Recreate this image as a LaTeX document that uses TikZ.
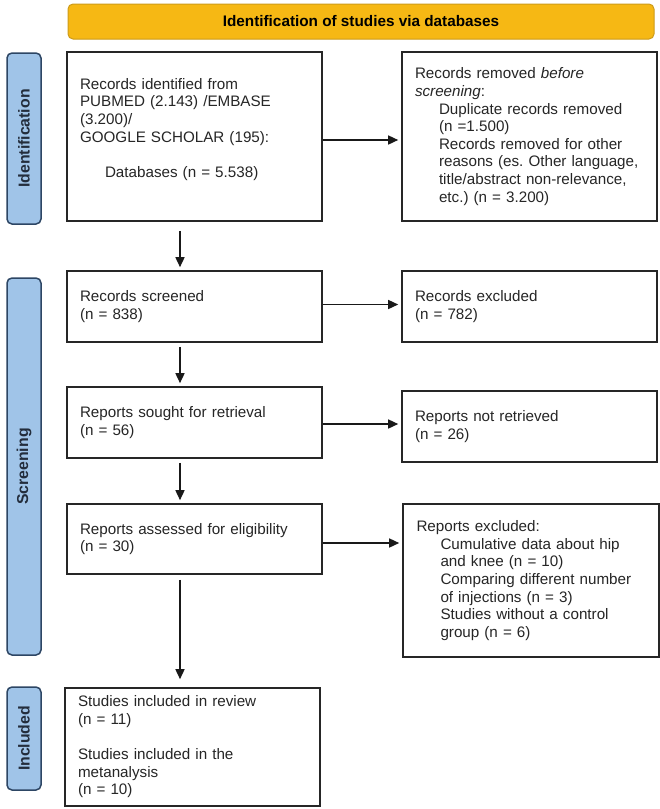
\documentclass[tikz,border=0pt]{standalone}
\usepackage{fontspec}
\setmainfont{Liberation Sans}
\usetikzlibrary{arrows.meta,calc}
\definecolor{banfill}{RGB}{246,184,20}
\definecolor{bandraw}{RGB}{205,155,25}
\definecolor{labfill}{RGB}{160,196,232}
\definecolor{labdraw}{RGB}{45,70,100}
\definecolor{labtext}{RGB}{35,45,60}
\newcommand{\myind}{\hspace*{24pt}}
\frenchspacing
\begin{document}
\begin{tikzpicture}[x=1pt,y=-1pt,
  box/.style={draw=black!85, line width=1.6pt, rectangle, inner xsep=13pt, inner ysep=0pt,
    text width=229pt, minimum width=255pt, align=left, text=black!85,
    font=\fontsize{15.2}{17.6}\selectfont},
  sidelab/.style={draw=labdraw, fill=labfill, line width=1.5pt, rounded corners=5pt,
    rotate=90, minimum height=34pt, inner sep=0pt, text=labtext,
    font=\fontsize{15.8}{18}\selectfont\bfseries},
  banner/.style={draw=bandraw, fill=banfill, line width=1pt, rounded corners=5pt,
    minimum width=586pt, minimum height=35pt, inner sep=0pt,
    font=\fontsize{15.3}{18}\selectfont\bfseries},
  arr/.style={draw=black!90, line width=1.5pt, -{Triangle[length=10pt,width=9pt]}}]
\useasboundingbox (0,0) rectangle (660,809);
\fill[white] (0,0) rectangle (660,809);

% banner and side labels
\node[banner] (ban) at (361,21.5) {Identification of studies via databases};
\node[sidelab, minimum width=171pt] (idl) at (24,138.5) {Identification};
\node[sidelab, minimum width=377pt] (scl) at (24,466.5) {Screening};
\node[sidelab, minimum width=103pt] (inl) at (24,738.5) {Included};

% boxes
\node[box, minimum height=169pt] (b1) at (194.5,136.5) {Records identified from\\
PUBMED (2.143) /EMBASE\\
(3.200)/\\
GOOGLE SCHOLAR (195):\\
\mbox{}\\
\hspace*{25pt}Databases (n = 5.538)\\
\mbox{}};
\node[box, minimum height=169pt] (b2) at (529.5,136.5) {Records removed \textit{before}\\
\textit{screening}:\\
\myind Duplicate records removed\\
\myind (n =1.500)\\
\myind Records removed for other\\
\myind reasons (es. Other language,\\
\myind title/abstract non-relevance,\\
\myind etc.) (n = 3.200)};
\node[box, minimum height=71pt] (b3) at (194.5,306.5) {Records screened\\(n = 838)};
\node[box, minimum height=71pt] (b4) at (529.5,306.5) {Records excluded\\(n = 782)};
\node[box, minimum height=71pt] (b5) at (194.5,422.5) {Reports sought for retrieval\\(n = 56)};
\node[box, minimum height=71pt] (b6) at (529.5,426.5) {Reports not retrieved\\(n = 26)};
\node[box, minimum height=70pt] (b7) at (194.5,539) {Reports assessed for eligibility\\(n = 30)};
\node[box, minimum height=153pt, minimum width=256pt] (b8) at (531,580.5) {Reports excluded:\\
\myind Cumulative data about hip\\
\myind and knee (n = 10)\\
\myind Comparing different number\\
\myind of injections (n = 3)\\
\myind Studies without a control\\
\myind group (n = 6)};
\node[box, minimum height=118pt] (b9) at (192.5,747) {Studies included in review\\
(n = 11)\\
\mbox{}\\
Studies included in the\\
metanalysis\\
(n = 10)};

% connectors
\coordinate (dx) at (180,0);
\draw[arr, shorten <=9pt, shorten >=3pt] (b1.south -| dx) -- (b3.north -| dx);
\draw[arr, shorten <=4pt, shorten >=3pt] (b3.south -| dx) -- (b5.north -| dx);
\draw[arr, shorten <=4pt, shorten >=3pt] (b5.south -| dx) -- (b7.north -| dx);
\draw[arr, shorten <=5pt, shorten >=8pt] (b7.south -| dx) -- (b9.north -| dx);

\coordinate (s1) at ($(b1.east)+(0,3.5)$);
\coordinate (s2) at ($(b3.east)+(0,-2)$);
\coordinate (s3) at ($(b5.east)+(0,1.5)$);
\coordinate (s4) at ($(b7.east)+(0,4)$);
\draw[arr, shorten >=3pt] (s1) -- (s1 -| b2.west);
\draw[arr, shorten >=3pt] (s2) -- (s2 -| b4.west);
\draw[arr, shorten >=3pt] (s3) -- (s3 -| b6.west);
\draw[arr, shorten >=3pt] (s4) -- (s4 -| b8.west);
\end{tikzpicture}
\end{document}
